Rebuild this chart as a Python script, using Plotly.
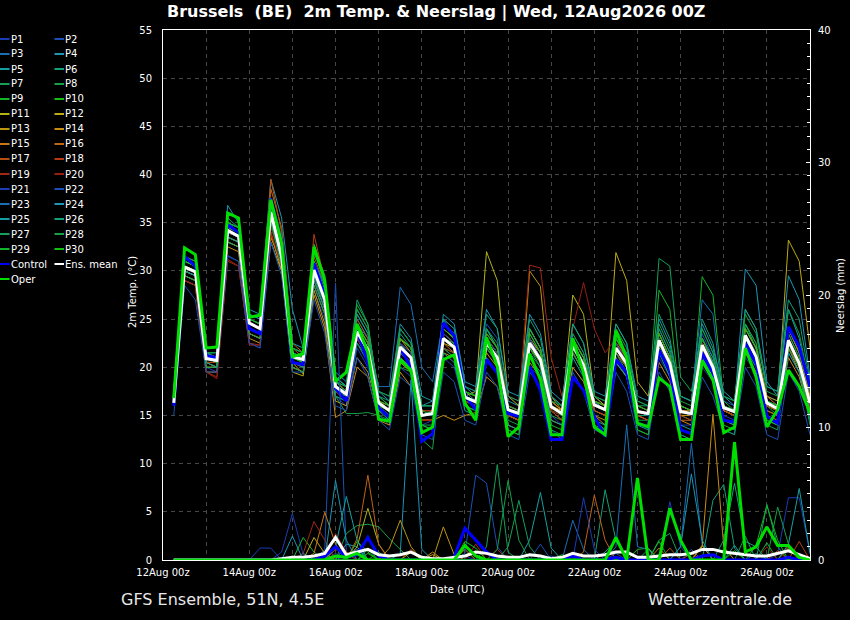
import pandas as pd
import plotly.graph_objects as go

# ---------------- data ----------------
times = pd.date_range("2026-08-12 06:00", periods=60, freq="6h")

member_names = ["P%d" % i for i in range(1, 31)]
member_colors = ["#1a3cb4", "#1a50b4", "#1a6eb4", "#1a96b4", "#14a0a0", "#14a078", "#14a05a", "#14a046",
                 "#14b428", "#14be14", "#b4b414", "#beaa14", "#be9614", "#c88c14", "#c87814", "#be6414",
                 "#b45014", "#b43c14", "#a02814", "#961e14",
                 "#1a3cb4", "#1a50b4", "#1a6eb4", "#1a96b4", "#14a0a0", "#14a078", "#14a05a", "#14a046",
                 "#14b428", "#14be14"]

# 2m temperature (degC), 6-hourly from 12Aug 06z to 27Aug 00z
t_mean = [16.3, 30.4, 29.9, 20.9, 20.7, 34.2, 33.6, 24.6, 24.0, 36.1, 31.5, 21.1, 20.8, 30.1, 27.0,
          18.0, 17.2, 23.7, 21.8, 16.3, 15.5, 22.1, 21.0, 15.0, 15.2, 23.0, 22.1, 16.9, 16.4, 22.5, 21.0,
          15.6, 15.2, 22.5, 20.8, 15.9, 15.2, 22.3, 20.2, 16.1, 15.6, 22.0, 20.4, 15.4, 15.2, 22.8, 20.4,
          15.4, 15.2, 22.3, 20.0, 15.8, 15.4, 23.3, 21.1, 16.3, 15.7, 22.8, 20.4, 16.3]
t_oper = [16.8, 32.4, 31.7, 22.0, 22.1, 36.0, 35.5, 25.2, 25.4, 37.4, 32.9, 21.1, 21.4, 32.5, 29.0,
          18.5, 19.5, 24.5, 21.5, 14.6, 14.4, 20.8, 19.7, 13.2, 13.8, 20.8, 21.3, 16.3, 14.5, 23.1, 20.1,
          12.8, 13.8, 21.4, 18.7, 13.0, 13.0, 23.0, 19.4, 13.8, 13.0, 23.8, 21.0, 14.2, 13.8, 18.9, 18.0,
          12.5, 12.5, 20.7, 18.7, 13.2, 13.8, 22.0, 19.0, 13.8, 15.6, 19.7, 18.0, 15.3]
t_ctrl = [16.0, 31.5, 30.5, 21.2, 21.0, 34.8, 34.0, 24.0, 23.5, 37.5, 33.0, 20.5, 20.3, 30.8, 27.5,
          17.8, 16.5, 23.8, 20.5, 15.8, 14.8, 22.0, 20.0, 12.3, 13.1, 24.6, 23.3, 17.1, 15.6, 20.8, 19.4,
          15.2, 14.9, 20.1, 17.6, 12.5, 12.5, 19.0, 17.6, 14.9, 12.8, 20.8, 19.5, 14.2, 13.8, 21.8, 19.7,
          13.5, 13.1, 21.5, 19.4, 14.5, 14.3, 22.5, 20.4, 14.9, 14.2, 24.2, 22.1, 18.0]

t_p01 = [16, 29, 28.5, 20, 19.5, 31.5, 31, 22.5, 22, 33, 30, 20.5, 20, 28, 25, 17, 16, 22, 20, 15, 14, 20, 19,
         14, 14.5, 21, 20, 16, 15.5, 21, 19.5, 15, 14.5, 20, 19, 15, 14, 20, 18.5, 15.5, 15, 21, 19,
         15, 14.5, 21, 19, 14, 14, 20, 18.5, 15, 14.5, 21, 19.5, 15.5, 15, 21.5, 19.5, 15.5]
t_p02 = [16.5, 31, 30.5, 21.5, 21, 35, 34.5, 25, 24.5, 37, 33, 22, 21.5, 31, 28, 19, 18, 25, 23, 17, 16, 24, 22.5,
         16, 16, 25, 24, 18, 17.5, 24.5, 23, 16, 15.5, 24, 22, 16.5, 15.5, 23.5, 21.5, 17, 16, 23, 21.5,
         16, 15.5, 24, 21.5, 16, 15.5, 23.5, 21, 16.5, 16, 24.5, 22.5, 17, 16.5, 24, 21.5, 17]
t_p03 = [16, 30, 29.5, 20.5, 20.5, 33.5, 33, 24, 23.5, 35.5, 31, 21, 20.5, 29.5, 26.5, 18.5, 18, 24.5, 23,
         18, 18, 28.3, 26.5, 20, 18.5, 25, 23, 17, 16.5, 23, 21.5, 16, 15.5, 23, 21, 16, 15, 22, 20,
         16.5, 15.5, 21.5, 20, 15.5, 15, 22, 20, 15, 15, 22, 20, 16, 15.5, 23, 21, 16.5, 16, 22.5, 20.5, 16]
t_p04 = [16.5, 31.5, 31, 21.5, 21.5, 36.8, 35, 26, 25.5, 39.5, 35.5, 26, 22, 32, 29, 19.5, 18.5, 26, 24,
         17.5, 16.5, 23, 22, 16, 16.5, 24.5, 23.5, 18, 17, 24, 22, 16.5, 16, 24, 22, 17, 16, 23, 21,
         16.5, 16, 23, 21.5, 16, 15.5, 23.5, 21, 16, 15.5, 23, 21, 17, 16, 30.2, 28.5, 18.5, 17, 26, 23, 17.5]
t_p05 = [16, 30.5, 30, 21, 20.5, 34, 33.5, 24.5, 24, 36.5, 32, 21.5, 21, 30.5, 27.5, 18.5, 17.5, 24, 22,
         16.5, 15.5, 22.5, 21, 15, 15, 23.5, 22.5, 17, 16.5, 23, 21.5, 15.5, 15, 23, 21, 16, 15, 22.5, 20.5,
         16.5, 15.5, 22.5, 20.5, 15.5, 15, 23, 20.5, 15.5, 15, 22.5, 20, 16, 15.5, 24, 22, 16.5, 16, 23, 20.5, 16.5]
t_p06 = [16, 31, 30.5, 21.5, 21, 35.5, 34.5, 25, 24.5, 37.5, 33, 22, 21.5, 32.5, 29.5, 19, 18, 27, 24.5,
         17, 16, 23.5, 22, 15, 15.5, 24, 23, 17.5, 16.5, 24, 22, 15, 14.5, 23.5, 21.5, 16, 15, 23, 21,
         16, 15.5, 22.5, 21, 15, 15, 24, 21.5, 15.5, 15, 23, 20.5, 16, 15.5, 24.5, 22, 16.5, 16, 24, 21.5, 16.5]
t_p07 = [16.5, 30, 29.5, 20.5, 20.5, 33.5, 33, 24, 23.5, 35.5, 31, 21, 20.5, 29, 26, 17.5, 17, 23, 21,
         16, 15, 21.5, 20.5, 14.5, 14.5, 22, 21, 16.5, 16, 22, 20.5, 15, 14.5, 21.5, 20, 15.5, 14.5, 21.5, 19.5,
         15.5, 15, 21, 19.5, 16, 16, 31.3, 30.5, 19, 17.5, 24, 21.5, 16, 15.5, 23, 21, 16, 15.5, 22, 20, 16]
t_p08 = [16, 30.5, 30, 21, 21, 34.5, 34, 25, 24.5, 36.5, 32, 21, 20.5, 29.5, 26, 17, 15.2, 15.2, 15.3,
         15, 14.5, 20, 19.5, 12.5, 11.5, 22, 21.5, 16, 15.5, 22, 20.5, 14.5, 14, 22, 20.5, 15, 14.5, 22, 20,
         15.5, 15, 21.5, 20, 14.5, 14.5, 22.5, 20, 15, 14.5, 22, 19.5, 15.5, 15, 23, 21, 16, 15, 22, 20, 15.5]
t_p09 = [16, 31.5, 31, 21.5, 21.5, 35, 34.5, 25.5, 25, 37, 33, 22, 21.5, 32.8, 29.5, 18.5, 18, 26.5, 24.5,
         17, 16, 23, 22, 15.5, 15.5, 24, 23, 17.5, 17, 23.5, 22, 15, 14.5, 23, 21.5, 15.5, 15, 23, 21,
         16, 15.5, 23, 21, 15.5, 15, 28, 26, 16, 15.5, 29.4, 27.5, 16.5, 15.5, 24.5, 22.5, 16.5, 16, 24, 21.5, 17]
t_p10 = [16, 30, 29.5, 20.5, 20, 33.5, 33, 24, 23.5, 36, 31.5, 21, 20.5, 30, 27, 18, 17, 23.5, 21.5,
         16.5, 15.5, 22, 21, 15, 15, 23, 22, 17, 16.5, 22.5, 21, 15.5, 15, 22.5, 20.5, 16, 15, 22, 20,
         16, 15.5, 22, 20.5, 15.5, 15, 22.5, 20.5, 15.5, 15, 22, 20, 16, 15.5, 23, 21, 16, 15.5, 22.5, 20.5, 16]
t_p11 = [16, 29.5, 29, 20, 20, 33, 32.5, 23.5, 23, 33, 30, 19.5, 19.1, 28.5, 25.5, 17.5, 17, 23, 21.5,
         16, 15.5, 22, 21, 15, 15, 22.5, 22, 17, 17.5, 32, 29, 17, 16, 24, 22, 16.5, 15.5, 27.5, 25.5,
         17, 16, 22.5, 20.5, 15.5, 15, 22, 20, 15, 15, 22, 19.5, 15.5, 15, 22.5, 20.5, 16, 15.5, 22.5, 20, 16]
t_p12 = [16.5, 30, 29.5, 20.5, 20.5, 34, 33.5, 24, 23.5, 35, 31.5, 20.5, 19.3, 30, 27, 18, 17, 24.5, 22.5,
         16.5, 16, 23, 21.5, 15.5, 15.5, 23.5, 22.5, 17, 16.5, 23, 21.5, 16, 15.5, 23, 21, 16, 15.5, 22.5, 20.5,
         16.5, 16, 31.9, 29, 18.5, 17, 23.5, 21, 16, 15.5, 23, 20.5, 16, 15.5, 24, 22, 17, 16.5, 33.2, 31, 22]
t_p13 = [16, 29.5, 29, 20, 20, 33, 32.5, 23.5, 23, 33.5, 30.5, 20, 19.5, 28, 24.5, 16.5, 16, 21, 19.5,
         15.5, 15, 20.5, 19.5, 14.5, 14.5, 21.5, 21, 16.5, 16, 21.5, 20, 15, 14.5, 30, 28.4, 17, 15.5, 21.5, 19.5,
         15, 14.5, 21, 19.5, 15, 14.5, 22, 19.5, 15, 15, 21.5, 19.5, 15.5, 15, 22.5, 20.5, 15.5, 15, 22, 19.5, 15.5]
t_p14 = [16, 29, 28.5, 19.5, 19.5, 32.5, 32, 23, 22.5, 34, 30, 20, 19.5, 27.5, 24, 14.8, 15.5, 20, 19,
         14.5, 14, 19.5, 18, 14.5, 14.5, 15, 14.5, 15, 15.3, 19, 18, 14, 13.5, 20.5, 19, 14.5, 14, 20, 18.5,
         15, 14, 20.5, 19, 14, 14, 20.5, 18.5, 14.5, 14, 20.5, 18.5, 14.5, 14, 21.5, 19.5, 15, 14.5, 21, 19, 15]
t_p15 = [16.5, 30.5, 30, 21, 21, 34.5, 34, 25, 24.5, 37, 32.5, 21.5, 21, 31, 28, 18.5, 17.5, 24.5, 22.5,
         16.5, 16, 23, 22, 15.5, 15.5, 24, 23, 17.5, 17, 23.5, 22, 16, 15.5, 23, 21.5, 16.5, 15.5, 23, 21,
         16.5, 16, 22.5, 21, 16, 15.5, 23.5, 21, 15.5, 15.5, 23, 20.5, 16, 15.5, 24, 22, 17, 16, 24, 21.5, 17]
t_p16 = [16, 30, 29.5, 20.5, 20, 33.5, 33, 24.5, 24, 38.5, 34.5, 22.5, 21.5, 30.5, 27, 18, 17, 23, 21,
         15.5, 15, 21.5, 20.5, 14.5, 14.5, 22.5, 21.5, 16.5, 16, 22, 20.5, 15, 14.5, 22, 20.5, 15.5, 14.5, 21.5, 19.5,
         15.5, 15, 21.5, 20, 15, 14.5, 22, 20, 14.5, 14.5, 21.5, 19.5, 15.5, 15, 22.5, 20.5, 15.5, 15, 22, 20, 15.5]
t_p17 = [16, 30.5, 30, 21, 20.5, 34, 33.5, 25, 24.5, 39.5, 34, 22, 21, 31.5, 28.5, 18.5, 17.5, 25, 23,
         16.5, 15.5, 22.5, 21.5, 15, 15, 23.5, 22.5, 17, 16.5, 23, 21.5, 15.5, 15, 23, 21, 16, 15, 22.5, 20.5,
         16, 15.5, 22.5, 20.5, 15.5, 15, 23, 20.5, 15.5, 15, 22.5, 20, 16, 15.5, 23.5, 21.5, 16.5, 16, 23, 20.5, 16.5]
t_p18 = [16, 30, 29.5, 20.5, 20.5, 34, 33.5, 24.5, 24, 36, 32.5, 21.5, 21, 33.8, 29, 17.5, 16.5, 23, 21,
         15.5, 15, 21, 20, 14.5, 14.5, 22, 21.5, 16.5, 16, 22, 20.5, 15, 14.5, 22, 20.5, 15.5, 14.5, 21.5, 19.5,
         15.5, 15, 21.5, 20, 15, 14.5, 22.5, 20, 15, 14.5, 22, 19.5, 15.5, 15, 23, 21, 16, 15.5, 22.5, 20, 16]
t_p19 = [16, 29, 28.5, 19.5, 19, 31, 30.5, 22.5, 22.3, 34, 30.5, 20.5, 20, 29, 26, 17.5, 17, 23.5, 21.5,
         16, 15.5, 22, 21, 15.5, 15.5, 23, 22, 17, 16.5, 23.5, 22, 17, 16.5, 30.6, 30.3, 21, 17, 22, 20,
         16, 15.5, 22, 20, 15.5, 15, 22.5, 20, 15.5, 15, 22.5, 20, 16, 15.5, 23, 21, 16.5, 16, 23, 20.5, 16.5]
t_p20 = [16, 29, 28.5, 19.5, 18.8, 31.2, 30.5, 22.3, 22.3, 34.5, 31, 20.5, 20, 28.5, 25.5, 17.5, 16.5, 23, 21,
         15.5, 15, 21.5, 20.5, 14.5, 14.5, 22, 21, 16.5, 16, 22.5, 21, 15.5, 15, 22, 20.5, 15.5, 15, 24, 28.8,
         24, 21.5, 23, 20.5, 15.5, 15, 23, 20.5, 15.5, 15, 22.5, 20.5, 16, 15.5, 23.5, 21.5, 16.5, 16, 23.5, 21, 16.5]
t_p21 = [16, 30.5, 30, 21, 21, 34.5, 34, 25, 24.5, 36.5, 32, 21.5, 21, 30, 27, 18, 17, 24, 22,
         16.5, 15.5, 22.5, 21.5, 15, 15, 23.5, 22.5, 17, 16.5, 23, 21.5, 15.5, 15, 23, 21, 16, 15, 22.5, 20.5,
         16, 15.5, 22.5, 20.5, 15.5, 15, 23, 20.5, 15.5, 15, 23, 20.5, 16, 15.5, 23.5, 21.5, 16.5, 16, 23.5, 21, 16.5]
t_p22 = [15, 28.5, 27, 19.5, 19.5, 31.6, 31, 22.5, 22, 33, 29.5, 19.5, 19.5, 27, 23.5, 16, 15.5, 21, 19,
         14.5, 13.5, 19, 18, 13, 12.5, 19.5, 18.5, 14.5, 14, 19.5, 18, 13, 12.5, 19.5, 18, 13.5, 12.5, 19.5, 17.5,
         13.5, 13, 19.5, 17.5, 13, 12.5, 19.5, 17.5, 13, 12.5, 19, 17, 13.5, 13, 20, 18, 13, 12.5, 19.5, 17.5, 13]
t_p23 = [16, 30, 29.5, 21, 20.5, 34, 33.5, 24.5, 24, 36.5, 31.5, 21, 20.5, 29.5, 27, 18, 17.5, 24, 22,
         16.5, 15.5, 22, 21, 15, 15, 23, 22, 17, 16.5, 22.5, 21, 15.5, 15, 22.5, 21, 16, 15, 22, 20,
         16, 15.5, 22, 20.5, 15.5, 15, 22.5, 20.5, 17, 16.5, 27, 25.5, 16, 15.5, 23, 21, 16.5, 16, 22.5, 20.5, 16]
t_p24 = [16.5, 31, 30.5, 21.5, 21, 35, 34.5, 25.5, 25, 37.5, 33.5, 22.5, 22, 31, 28.5, 19, 18, 25.5, 23.5,
         17.5, 17, 24.5, 23, 17, 16.5, 25.5, 24.5, 18.5, 18, 26, 24, 17.5, 17, 25.5, 23.5, 17.5, 16.5, 24.5, 22.5,
         17.5, 17, 24.5, 22.5, 17, 16.5, 25, 22.5, 17, 16.5, 24.5, 22, 17.5, 16.5, 26, 24, 18, 17.5, 29.5, 27, 19]
t_p25 = [16, 30, 29.5, 20.5, 20, 33.5, 33, 24, 23.5, 35.5, 31, 20.5, 20, 29, 26, 17, 16.5, 22.5, 20.5,
         15.5, 14.5, 21, 20, 14, 13.5, 21.5, 20.5, 15.5, 15, 21, 19.5, 14, 13.5, 21, 19.5, 14.5, 14, 21, 19,
         14.5, 14, 20.5, 19, 14, 13.5, 21.5, 19, 14, 13.5, 21, 19, 14.5, 14, 22, 20, 14.5, 14, 21.5, 19.5, 14.5]
t_p26 = [16.5, 31, 30.5, 21.5, 21, 35, 34, 25, 24.5, 37, 32.5, 21.5, 21, 31, 28, 19, 18, 25.5, 23.5,
         17, 16.5, 24, 22.5, 16, 16, 25, 24, 18, 17.5, 25.5, 24, 17, 16.5, 25, 23, 17, 16, 24.5, 22.5,
         17, 16.5, 24.5, 22.5, 16.5, 16, 25.5, 23, 17, 16.5, 25, 22.5, 17, 16.5, 26, 24, 18, 17.5, 27, 25, 18.5]
t_p27 = [16, 29.5, 29, 20, 20, 33, 32.5, 23.5, 23, 35, 30.5, 20, 19.5, 28.5, 25.5, 17, 16.5, 22.5, 21,
         15.5, 15, 21.5, 20.5, 14, 14, 22, 21, 16, 15.5, 22, 20.5, 13.5, 13, 22, 20, 13.5, 13, 21.5, 19.5,
         14, 13.5, 21.5, 19.5, 13.5, 13, 22, 19.5, 13, 12.5, 21.5, 19.5, 13.5, 13, 22.5, 20.5, 14, 13.5, 22, 20, 14]
t_p28 = [16.5, 31, 30.5, 21, 21, 35, 34, 25, 24.5, 37, 32.5, 22, 21.5, 32, 29, 18.5, 18, 26, 24,
         17.5, 17, 24, 22.5, 16, 16, 24.5, 23.5, 17.5, 17, 24, 22.5, 16, 15.5, 24, 22, 16.5, 16, 23.5, 21.5,
         17, 16.5, 24, 22, 16.5, 16, 24.5, 22, 16.5, 16, 24, 21.5, 17, 16.5, 25.5, 23.5, 17.5, 17, 26, 23.5, 18]
t_p29 = [16, 30.5, 30, 21, 20.5, 34.5, 34, 24.5, 24, 36.5, 32, 21, 20.5, 30, 27, 17.5, 17, 23.5, 21.5,
         16, 15.5, 22, 21, 14, 13.5, 23, 22.5, 17, 16.5, 22.5, 21, 13.5, 13, 22, 20.5, 14, 13.5, 22, 20,
         14.5, 13.5, 22, 20, 13.5, 13, 22.5, 20, 13.5, 13, 22, 20, 14, 13.5, 23, 21, 14.5, 14, 22.5, 20.5, 15]
t_p30 = [16, 31, 30.5, 21, 21, 35, 34.5, 25, 24.5, 37, 32.5, 21.5, 21, 31, 28, 18.5, 17.5, 24.5, 22.5,
         16.5, 16, 23, 22, 15.5, 15, 24, 23, 17.5, 17, 23.5, 22, 15.5, 15, 23.5, 21.5, 16, 15, 23, 21,
         16.5, 16, 23, 21, 16, 15.5, 23.5, 21, 16, 15.5, 23, 20.5, 16, 15.5, 24, 22, 16.5, 16, 23.5, 21, 16.5]

# 6-hourly precipitation (mm): mean as full series, others as (time index, value) pairs
r_mean = [0, 0, 0, 0, 0, 0, 0, 0, 0, 0, 0.1, 0.2, 0.2, 0.3, 0.5,
          1.7, 0.4, 0.6, 0.8, 0.4, 0.3, 0.4, 0.6, 0.2, 0.1, 0.1, 0.2, 0.3, 0.6, 0.5, 0.3,
          0.2, 0.2, 0.4, 0.3, 0.1, 0.2, 0.5, 0.3, 0.3, 0.4, 0.6, 0.6, 0.2, 0.2, 0.3, 0.4,
          0.4, 0.5, 0.8, 0.8, 0.6, 0.5, 0.4, 0.3, 0.3, 0.5, 0.7, 0.4, 0.1]
r_ctrl = [(14, 0.3), (15, 1.0), (16, 0.2), (17, 0.4), (18, 1.7), (19, 0.3), (26, 0.2), (27, 2.4), (28, 1.5),
          (29, 0.6), (37, 0.3), (41, 0.2), (49, 0.3), (50, 0.4), (57, 0.2)]
r_oper = [(15, 0.3), (16, 0.2), (17, 0.5), (27, 1.1), (28, 0.3), (41, 1.7), (43, 6.2), (46, 3.9), (47, 1.5),
          (52, 8.9), (53, 0.6), (54, 1.0), (55, 2.5), (56, 1.1), (57, 1.1), (58, 0.2)]
r_p01 = [(10, 0.6), (11, 3.5), (12, 0.4), (15, 0.5), (27, 0.3), (56, 0.4), (57, 4.7), (58, 4.7), (59, 0.5)]
r_p02 = [(14, 0.8), (15, 20.9), (16, 0.6), (35, 0.3), (41, 0.5), (48, 0.8)]
r_p03 = [(16, 0.4), (17, 0.8), (37, 3.0), (38, 0.8), (47, 1.0), (48, 8.8), (49, 1.2), (54, 0.5)]
r_p04 = [(16, 1.2), (17, 1.0), (21, 0.5), (22, 13.6), (23, 0.8), (40, 0.6), (41, 1.5)]
r_p05 = [(12, 0.5), (15, 1.0), (33, 1.5), (34, 5.1), (35, 0.9), (52, 1.1)]
r_p06 = [(18, 0.8), (40, 5.3), (41, 1.5), (50, 4.5), (51, 5.7), (52, 0.9)]
r_p07 = [(29, 1.0), (30, 7.2), (31, 0.6), (45, 1.5), (46, 2.0)]
r_p08 = [(16, 2.0), (17, 2.6), (18, 2.7), (19, 2.5), (20, 1.6), (21, 0.8), (53, 1.8)]
r_p09 = [(12, 1.7), (13, 0.6), (36, 0.4), (55, 1.3)]
r_p10 = [(17, 1.4), (18, 0.6), (43, 0.8), (44, 0.9), (57, 0.9)]
r_p11 = [(17, 1.0), (18, 3.9), (19, 1.2), (22, 0.6)]
r_p12 = [(13, 1.7), (14, 0.5), (24, 0.4), (49, 1.1)]
r_p13 = [(20, 0.9), (21, 3.0), (22, 1.0), (25, 2.5), (26, 0.4)]
r_p14 = [(24, 0.6), (27, 0.8), (49, 1.0), (50, 11.0), (51, 1.0)]
r_p15 = [(13, 0.5), (14, 3.6), (15, 1.2), (45, 0.9)]
r_p16 = [(17, 1.6), (18, 6.4), (19, 1.2), (38, 0.6), (39, 4.9), (40, 1.5), (48, 0.5)]
r_p17 = [(15, 0.8), (16, 0.5), (46, 0.9), (57, 1.0)]
r_p18 = [(11, 0.3), (22, 0.8), (56, 0.7), (58, 1.4)]
r_p19 = [(12, 0.5), (13, 2.9), (14, 1.5), (28, 1.2), (30, 0.8)]
r_p20 = [(15, 2.0), (16, 0.6), (55, 1.0), (57, 1.2)]
r_p21 = [(8, 0.9), (9, 0.9), (38, 4.7), (39, 0.8), (46, 4.4), (47, 1.0)]
r_p22 = [(27, 0.5), (28, 6.4), (29, 5.8), (30, 1.0), (34, 1.2)]
r_p23 = [(41, 1.0), (42, 10.2), (43, 1.0), (44, 0.8)]
r_p24 = [(11, 1.8), (15, 6.0), (16, 1.5), (47, 1.0), (48, 6.5), (49, 1.5)]
r_p25 = [(15, 1.0), (16, 4.8), (17, 1.5), (57, 1.2), (58, 5.4), (59, 0.5)]
r_p26 = [(44, 0.8), (51, 1.5), (52, 5.8), (53, 1.4), (54, 1.0)]
r_p27 = [(31, 1.0), (32, 4.5), (33, 1.0), (55, 4.2), (56, 1.0)]
r_p28 = [(30, 0.8), (31, 6.0), (32, 1.5), (56, 4.0), (57, 1.2)]
r_p29 = [(19, 0.6), (45, 1.4), (54, 1.1), (55, 4.1), (56, 1.5)]
r_p30 = [(18, 0.5), (27, 1.4), (28, 0.9), (52, 0.7)]

member_temps = [t_p01, t_p02, t_p03, t_p04, t_p05, t_p06, t_p07, t_p08, t_p09, t_p10,
                t_p11, t_p12, t_p13, t_p14, t_p15, t_p16, t_p17, t_p18, t_p19, t_p20,
                t_p21, t_p22, t_p23, t_p24, t_p25, t_p26, t_p27, t_p28, t_p29, t_p30]
member_rains = [r_p01, r_p02, r_p03, r_p04, r_p05, r_p06, r_p07, r_p08, r_p09, r_p10,
                r_p11, r_p12, r_p13, r_p14, r_p15, r_p16, r_p17, r_p18, r_p19, r_p20,
                r_p21, r_p22, r_p23, r_p24, r_p25, r_p26, r_p27, r_p28, r_p29, r_p30]

x_start, x_end = "2026-08-12 00:00", "2026-08-27 00:00"


def expand(pairs, n=60):
    arr = [0.0] * n
    for i, v in pairs:
        arr[i] = v
    return arr


# ---------------- figure ----------------
fig = go.Figure()

for name, col, tt in zip(member_names, member_colors, member_temps):
    fig.add_trace(go.Scatter(x=times, y=tt, mode="lines", name=name,
                             line=dict(color=col, width=1), yaxis="y", hoverinfo="skip"))
for name, col, rr in zip(member_names, member_colors, member_rains):
    fig.add_trace(go.Scatter(x=times, y=expand(rr), mode="lines", name=name + " rain",
                             line=dict(color=col, width=1), yaxis="y2", hoverinfo="skip"))

main_series = [("Control", "#0000ff", t_ctrl, expand(r_ctrl)),
               ("Ens. mean", "#ffffff", t_mean, r_mean),
               ("Oper", "#00e000", t_oper, expand(r_oper))]
for name, col, tt, rr in main_series:
    fig.add_trace(go.Scatter(x=times, y=tt, mode="lines", name=name,
                             line=dict(color=col, width=3), yaxis="y", hoverinfo="skip"))
for name, col, tt, rr in main_series:
    fig.add_trace(go.Scatter(x=times, y=rr, mode="lines", name=name + " rain",
                             line=dict(color=col, width=3), yaxis="y2", hoverinfo="skip"))

# plot area in pixels: x 163..810, y 30..560
L, R, T, B = 163, 810, 30, 560


def px(xp):
    return (xp - L) / (R - L)


def py(yp):
    return (B - yp) / (B - T)


annotations = []
shapes = []

legend_entries = [(n, c) for n, c in zip(member_names, member_colors)]
legend_entries += [("Control", "#0000ff"), ("Ens. mean", "#ffffff"), ("Oper", "#00e000")]
for k, (name, col) in enumerate(legend_entries):
    row, colnum = divmod(k, 2)
    yc = 39 + 15 * row
    x0 = 0 if colnum == 0 else 54.5
    shapes.append(dict(type="line", xref="paper", yref="paper", x0=px(x0), x1=px(x0 + 9.5),
                       y0=py(yc), y1=py(yc), line=dict(color=col, width=2)))
    annotations.append(dict(text=name, xref="paper", yref="paper", x=px(x0 + 8.5), y=py(yc),
                            xanchor="left", yanchor="middle", showarrow=False,
                            font=dict(size=10, color="white", family="DejaVu Sans")))

annotations.append(dict(text="<b>Brussels\u00a0\u00a0(BE)\u00a0\u00a02m Temp. &amp; Neerslag | Wed, 12Aug2026 00Z</b>",
                        xref="paper", yref="paper", x=px(165), y=py(12), xanchor="left", yanchor="middle",
                        showarrow=False, font=dict(size=16, color="white", family="DejaVu Sans")))
annotations.append(dict(text="GFS Ensemble, 51N, 4.5E", xref="paper", yref="paper", x=px(119), y=py(599),
                        xanchor="left", yanchor="middle", showarrow=False,
                        font=dict(size=16, color="#e8e8e8", family="DejaVu Sans")))
annotations.append(dict(text="Wetterzentrale.de", xref="paper", yref="paper", x=px(794), y=py(599),
                        xanchor="right", yanchor="middle", showarrow=False,
                        font=dict(size=16, color="#e8e8e8", family="DejaVu Sans")))
annotations.append(dict(text="Date (UTC)", xref="paper", yref="paper", x=px(457), y=py(589),
                        xanchor="center", yanchor="middle", showarrow=False,
                        font=dict(size=10, color="white", family="DejaVu Sans")))
annotations.append(dict(text="2m Temp. (°C)", xref="paper", yref="paper", x=px(132), y=py(292),
                        xanchor="center", yanchor="middle", textangle=-90, showarrow=False,
                        font=dict(size=10, color="white", family="DejaVu Sans")))
annotations.append(dict(text="Neerslag (mm)", xref="paper", yref="paper", x=px(840), y=py(295),
                        xanchor="center", yanchor="middle", textangle=-90, showarrow=False,
                        font=dict(size=10, color="white", family="DejaVu Sans")))

grid_col = "#474747"
fig.update_layout(
    width=850, height=620,
    paper_bgcolor="black", plot_bgcolor="black",
    margin=dict(l=L, r=850 - R, t=T, b=620 - B),
    font=dict(family="DejaVu Sans", color="white", size=10),
    showlegend=False,
    annotations=annotations,
    shapes=shapes,
    xaxis=dict(type="date", range=[x_start, x_end], tick0="2026-08-12", dtick=172800000,
               tickformat="%d%b %Hz", showgrid=True, gridcolor=grid_col, griddash="4px,4px", gridwidth=1,
               minor=dict(dtick=86400000, showgrid=True, gridcolor=grid_col, griddash="4px,4px", gridwidth=1),
               showline=True, linecolor="white", linewidth=1, mirror=True, ticks="", zeroline=False,
               tickfont=dict(size=10, color="white"), ticklabelstandoff=3),
    yaxis=dict(range=[0, 55], dtick=5, showgrid=True, gridcolor=grid_col, griddash="4px,4px", gridwidth=1,
               showline=True, linecolor="white", linewidth=1, mirror=True, ticks="", zeroline=False,
               tickfont=dict(size=10, color="white"), ticklabelstandoff=8),
    yaxis2=dict(overlaying="y", side="right", range=[0, 40], dtick=10, showgrid=False, zeroline=False,
                ticks="inside", ticklen=4, tickcolor="white", tickwidth=1,
                minor=dict(dtick=1, ticks="inside", ticklen=3, tickcolor="white", showgrid=False),
                showline=True, linecolor="white", linewidth=1,
                tickfont=dict(size=10, color="white"), ticklabelstandoff=5),
)

fig.write_html("out.html", config={"displayModeBar": False},
               post_script="document.body.style.margin='0';")
